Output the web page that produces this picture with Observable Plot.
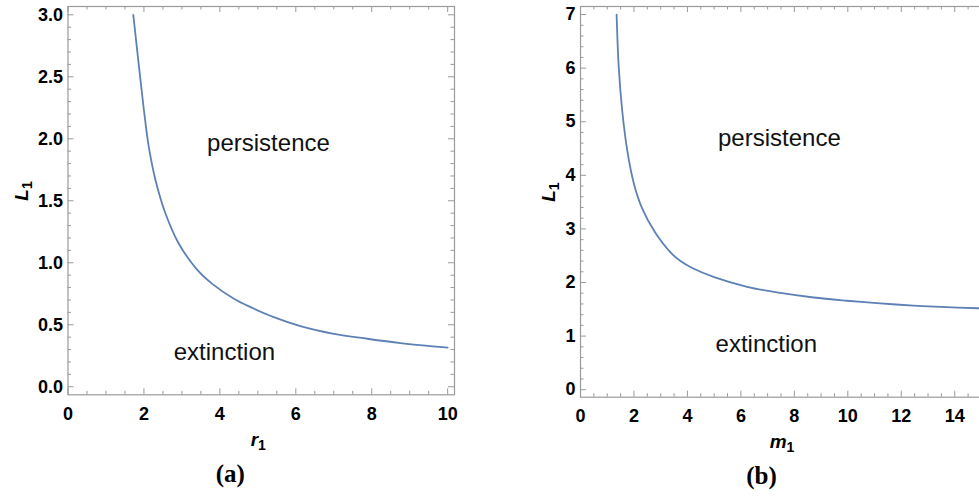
<!DOCTYPE html>
<html><head><meta charset="utf-8">
<script src="https://cdn.jsdelivr.net/npm/d3@7"></script>
<script src="https://cdn.jsdelivr.net/npm/@observablehq/plot@0.6"></script>
<style>
html,body{margin:0;padding:0;background:#fff;}
#wrap{position:relative;width:979px;height:498px;overflow:hidden;background:#fff;}
#wrap > svg{position:absolute;top:0;}
</style></head><body><div id="wrap"></div>
<script>
// ---- data (panel a) ----
const rA = [1.72, 1.87, 2.0, 2.13, 2.31, 2.57, 2.92, 3.4, 3.8, 4.37, 4.81, 5.42, 6.12, 7.0, 7.88, 8.76, 10.0];
const LA = [3.0, 2.58, 2.23, 1.93, 1.66, 1.395, 1.153, 0.945, 0.83, 0.71, 0.642, 0.561, 0.489, 0.427, 0.387, 0.352, 0.315];
// ---- data (panel b) ----
const mB = [1.35, 1.43, 1.56, 1.75, 2.0, 2.31, 2.8, 3.43, 3.74, 4.18, 5.0, 6.23, 7.48, 8.72, 9.97, 11.21, 12.46, 13.7, 14.88, 15.3];
const LB = [7.0, 6.02, 5.21, 4.46, 3.84, 3.38, 2.93, 2.53, 2.40, 2.27, 2.10, 1.92, 1.805, 1.72, 1.66, 1.61, 1.57, 1.54, 1.52, 1.51];
// ---- ticks ----
const xTicksA = [0, 2, 4, 6, 8, 10];
const yTicksA = [0.0, 0.5, 1.0, 1.5, 2.0, 2.5, 3.0];
const xTicksB = [0, 2, 4, 6, 8, 10, 12, 14];
const yTicksB = [0, 1, 2, 3, 4, 5, 6, 7];
const regionLabels = ["persistence", "extinction"];
const captions = ["(a)", "(b)"];

const blue = "#5E81B5";
const grey = "#9a9a9a";
const minor = (lo, hi, step, majors) => d3.range(lo, hi + 1e-9, step).map(v => +v.toFixed(3)).filter(v => !majors.some(m => Math.abs(m - v) < 1e-6));

function panel({left, width, height, mL, mR, mT, mB: mBot, xDom, yDom, xs, ys, xT, yT, xMinStep, yMinStep, yFmt, xLabel, yLabel, yLabelDx, caption, capDx, lab, xLabDx}) {
  const pw = width - mL - mR, ph = height - mT - mBot;
  const data = xs.map((x, i) => ({x, y: ys[i]}));
  const xMin = minor(0, xDom[1], xMinStep, xT).filter(v => v <= xDom[1]);
  const yMin = minor(0, yDom[1], yMinStep, yT).filter(v => v <= yDom[1]);
  const labels = regionLabels.map((t, i) => ({t, x: lab[i][0], y: lab[i][1]}));
  const svg = Plot.plot({
    width, height, marginLeft: mL, marginRight: mR, marginTop: mT, marginBottom: mBot,
    style: {fontFamily: "'Liberation Sans', Arial, sans-serif", background: "white", color: "black", overflow: "visible"},
    x: {domain: xDom, label: null},
    y: {domain: yDom, label: null},
    marks: [
      Plot.frame({stroke: grey, strokeWidth: 1.2}),
      Plot.ruleX(xT, {insetTop: ph - 6, stroke: grey}),
      Plot.ruleX(xMin, {insetTop: ph - 3.5, stroke: grey}),
      Plot.ruleX(xT, {insetBottom: ph - 6, stroke: grey}),
      Plot.ruleX(xMin, {insetBottom: ph - 3.5, stroke: grey}),
      Plot.ruleY(yT, {insetRight: pw - 6, stroke: grey}),
      Plot.ruleY(yMin, {insetRight: pw - 3.5, stroke: grey}),
      Plot.ruleY(yT, {insetLeft: pw - 6, stroke: grey}),
      Plot.ruleY(yMin, {insetLeft: pw - 3.5, stroke: grey}),
      Plot.axisX(xT, {anchor: "bottom", tickSize: 0, tickPadding: 12, fontSize: 18, fontWeight: "bold", label: null}),
      Plot.axisY(yT, {anchor: "left", tickSize: 0, tickPadding: 5, fontSize: 18, fontWeight: "bold", tickFormat: yFmt, label: null}),
      Plot.line(data, {x: "x", y: "y", stroke: blue, strokeWidth: 1.8, curve: "catmull-rom"}),
      Plot.text(labels, {x: "x", y: "y", text: "t", fontSize: 24, fill: "#111"}),
      Plot.text([xLabel], {frameAnchor: "bottom", dy: 51, dx: xLabDx, text: d => d, fontSize: 19, fontWeight: "bold"}),
      Plot.text([yLabel], {frameAnchor: "left", dx: yLabelDx, rotate: -90, text: d => d, fontSize: 19, fontWeight: "bold"}),
      Plot.text([caption], {frameAnchor: "bottom", dy: 87, dx: capDx, text: d => d, fontSize: 25, fontWeight: "bold", fontFamily: "'Liberation Serif', 'DejaVu Serif', serif"})
    ]
  });
  svg.style.left = left + "px";
  d3.select(svg).selectAll("text").each(function() {
    const t = this.textContent;
    if (t === xLabel || t === yLabel) {
      const base = t.slice(0, -1), sub = t.slice(-1);
      d3.select(this).text(null);
      d3.select(this).append("tspan").attr("font-style", "italic").text(base);
      d3.select(this).append("tspan").attr("dy", "0.3em").attr("font-size", 14).text(sub);
    }
  });
  return svg;
}

const wrap = document.getElementById("wrap");
wrap.appendChild(panel({
  left: 0, width: 470, height: 498, mL: 67.5, mR: 16, mT: 6, mB: 103.7,
  xDom: [0, 10.18], yDom: [-0.065, 3.067], xs: rA, ys: LA, xT: xTicksA, yT: yTicksA,
  xMinStep: 0.5, yMinStep: 0.1, yFmt: d3.format(".1f"),
  xLabel: "r1", yLabel: "L1", yLabelDx: -46, caption: captions[0], capDx: -31, xLabDx: -3,
  lab: [[5.28, 1.96], [4.12, 0.277]]
}));
wrap.appendChild(panel({
  left: 490, width: 520, height: 498, mL: 90, mR: 21, mT: 6, mB: 101.3,
  xDom: [0, 15.3], yDom: [-0.14, 7.15], xs: mB, ys: LB, xT: xTicksB, yT: yTicksB,
  xMinStep: 0.5, yMinStep: 0.2, yFmt: d3.format("d"),
  xLabel: "m1", yLabel: "L1", yLabelDx: -32, caption: captions[1], capDx: -23.5, xLabDx: -3,
  lab: [[7.44, 4.69], [6.95, 0.84]]
}));
</script>
</body></html>
